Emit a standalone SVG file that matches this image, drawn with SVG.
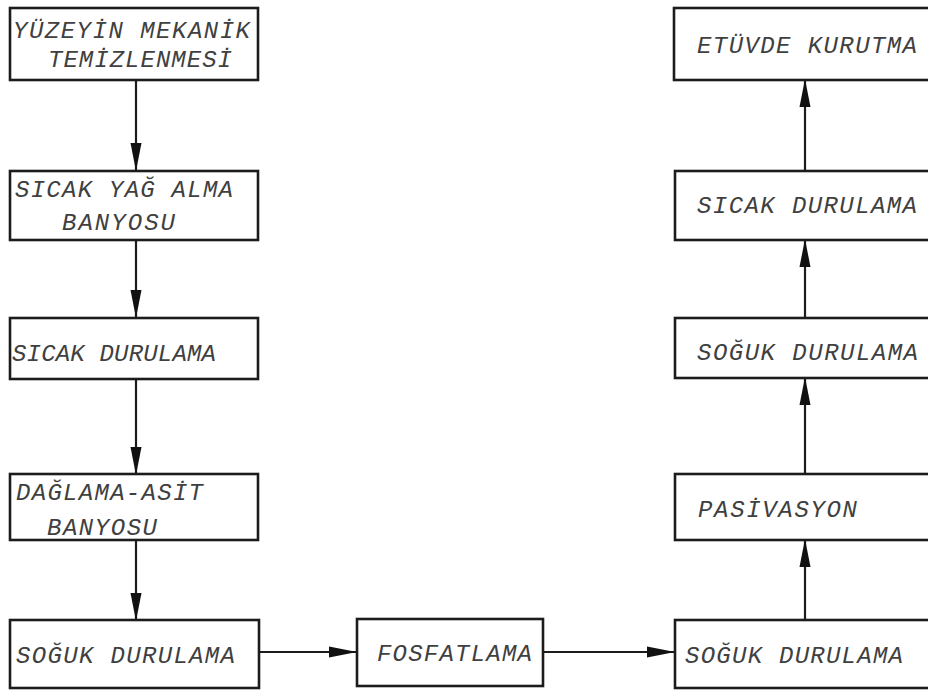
<svg xmlns="http://www.w3.org/2000/svg" width="928" height="690" viewBox="0 0 928 690">
<style>
.box{fill:#fff;stroke:#1c1c1c;stroke-width:2.6}
.lbl{font-family:"Liberation Mono","DejaVu Sans Mono",monospace;font-style:italic;font-size:24px;fill:#404040}
.con{stroke:#1c1c1c;stroke-width:2.2;fill:none}
</style>
<defs>
<marker id="ah" markerUnits="userSpaceOnUse" markerWidth="30" markerHeight="14" viewBox="0 0 30 14" refX="28" refY="7" orient="auto">
<path d="M0,1.5 L28,7 L0,12.5 z" fill="#111"/>
</marker>
</defs>
<rect width="928" height="690" fill="#fff"/>
<g id="connectors">
<line class="con" x1="136" y1="80" x2="136" y2="171" marker-end="url(#ah)"/>
<line class="con" x1="136" y1="240" x2="136" y2="318" marker-end="url(#ah)"/>
<line class="con" x1="136" y1="379" x2="136" y2="475" marker-end="url(#ah)"/>
<line class="con" x1="136" y1="540" x2="136" y2="621" marker-end="url(#ah)"/>
<line class="con" x1="259" y1="652" x2="357" y2="652" marker-end="url(#ah)"/>
<line class="con" x1="543" y1="652" x2="675" y2="652" marker-end="url(#ah)"/>
<line class="con" x1="805" y1="620" x2="805" y2="539" marker-end="url(#ah)"/>
<line class="con" x1="805" y1="474" x2="805" y2="377" marker-end="url(#ah)"/>
<line class="con" x1="805" y1="318" x2="805" y2="239" marker-end="url(#ah)"/>
<line class="con" x1="805" y1="171" x2="805" y2="79" marker-end="url(#ah)"/>
</g>
<g id="n1"><rect class="box" x="10" y="8" width="248" height="72"/>
<text class="lbl" x="13" y="38" textLength="237" lengthAdjust="spacing">YÜZEYİN MEKANİK</text>
<text class="lbl" x="48" y="67" textLength="184" lengthAdjust="spacing">TEMİZLENMESİ</text></g>
<g id="n2"><rect class="box" x="10" y="171" width="248" height="69"/>
<text class="lbl" x="15" y="197" textLength="218" lengthAdjust="spacing">SICAK YAĞ ALMA</text>
<text class="lbl" x="62" y="230" textLength="113" lengthAdjust="spacing">BANYOSU</text></g>
<g id="n3"><rect class="box" x="10" y="318" width="248" height="61"/>
<text class="lbl" x="12" y="361" textLength="204" lengthAdjust="spacing">SICAK DURULAMA</text></g>
<g id="n4"><rect class="box" x="10" y="474" width="248" height="66"/>
<text class="lbl" x="16" y="500" textLength="187" lengthAdjust="spacing">DAĞLAMA-ASİT</text>
<text class="lbl" x="47" y="535" textLength="110" lengthAdjust="spacing">BANYOSU</text></g>
<g id="n5"><rect class="box" x="10" y="620" width="249" height="68"/>
<text class="lbl" x="16" y="663" textLength="219" lengthAdjust="spacing">SOĞUK DURULAMA</text></g>
<g id="n6"><rect class="box" x="357" y="619" width="186" height="67"/>
<text class="lbl" x="377" y="661" textLength="155" lengthAdjust="spacing">FOSFATLAMA</text></g>
<g id="n7"><rect class="box" x="675" y="620" width="262" height="68"/>
<text class="lbl" x="685" y="663" textLength="218" lengthAdjust="spacing">SOĞUK DURULAMA</text></g>
<g id="n8"><rect class="box" x="675" y="474" width="262" height="66"/>
<text class="lbl" x="698" y="517" textLength="159" lengthAdjust="spacing">PASİVASYON</text></g>
<g id="n9"><rect class="box" x="675" y="318" width="262" height="60"/>
<text class="lbl" x="697" y="360" textLength="221" lengthAdjust="spacing">SOĞUK DURULAMA</text></g>
<g id="n10"><rect class="box" x="675" y="171" width="262" height="69"/>
<text class="lbl" x="697" y="213" textLength="220" lengthAdjust="spacing">SICAK DURULAMA</text></g>
<g id="n11"><rect class="box" x="674" y="8" width="263" height="72"/>
<text class="lbl" x="697" y="53" textLength="220" lengthAdjust="spacing">ETÜVDE KURUTMA</text></g>
</svg>
